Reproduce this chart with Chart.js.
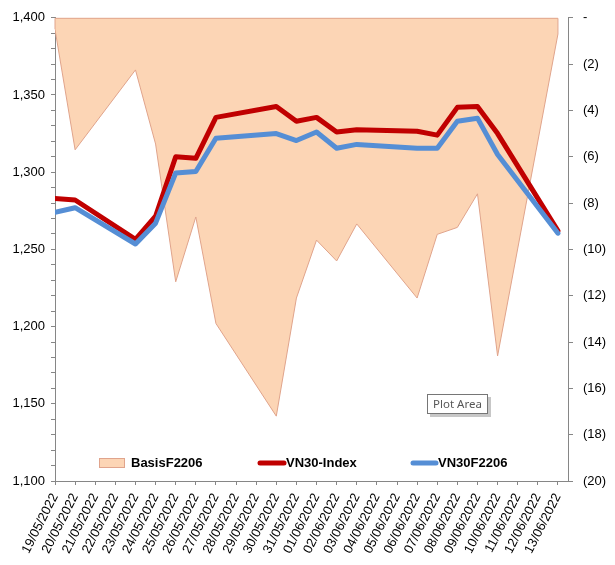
<!DOCTYPE html>
<html><head><meta charset="utf-8">
<script src="https://cdn.jsdelivr.net/npm/chart.js@4.4.0/dist/chart.umd.min.js"></script>
<style>html,body{margin:0;padding:0;background:#fff;} #wrap{width:615px;height:565px;position:relative;}</style>
</head><body><div id="wrap"><canvas id="c" width="615" height="565"></canvas></div>
<script>
const axisDates = ['19/05/2022','20/05/2022','21/05/2022','22/05/2022','23/05/2022','24/05/2022','25/05/2022','26/05/2022','27/05/2022','28/05/2022','29/05/2022','30/05/2022','31/05/2022','01/06/2022','02/06/2022','03/06/2022','04/06/2022','05/06/2022','06/06/2022','07/06/2022','08/06/2022','09/06/2022','10/06/2022','11/06/2022','12/06/2022','13/06/2022'];
const tradingDates = ['19/05/2022','20/05/2022','23/05/2022','24/05/2022','25/05/2022','26/05/2022','27/05/2022','30/05/2022','31/05/2022','01/06/2022','02/06/2022','03/06/2022','06/06/2022','07/06/2022','08/06/2022','09/06/2022','10/06/2022','13/06/2022'];
const vn30Index = [1283, 1282, 1256.5, 1271.5, 1310, 1309, 1335.5, 1342.5, 1333, 1335.5, 1326, 1327.5, 1326.5, 1324, 1342, 1342.5, 1325, 1262];
const vn30F2206 = [1274, 1277, 1253.5, 1267, 1299.5, 1300.5, 1322, 1325, 1320.5, 1326, 1315.5, 1318, 1315.5, 1315.5, 1333, 1335, 1311.5, 1260.5];
const basisF2206 = [-0.5, -5.7, -2.25, -5.45, -11.4, -8.6, -13.2, -17.2, -12.1, -9.6, -10.5, -8.9, -12.1, -9.35, -9.05, -7.6, -14.6, -0.7];
const leftTicks = {min: 1100, max: 1400, major: 50, minor: 10};
const rightTicks = {min: -20, max: 0, step: 2};

const FONT = 'Liberation Sans, Arial, sans-serif';
const AXIS = '#868686';
const AREA_FILL = '#FCD5B5';
const AREA_LINE = '#E0A48C';
const RED = '#C00000';
const BLUE = '#558ED5';

const pts = vals => tradingDates.map((d, i) => ({x: axisDates.indexOf(d), y: vals[i]}));

const extras = {
  id: 'extras',
  afterDatasetsDraw(chart) {
    const c = chart.ctx, x = chart.scales.x, y2 = chart.scales.y2;
    c.save();
    c.strokeStyle = AREA_LINE; c.lineWidth = 1;
    c.beginPath();
    c.moveTo(x.getPixelForValue(0), y2.getPixelForValue(basisF2206[0]));
    c.lineTo(x.getPixelForValue(0), y2.getPixelForValue(0) + 0.5);
    const lastX = axisDates.indexOf(tradingDates[tradingDates.length - 1]);
    c.lineTo(x.getPixelForValue(lastX), y2.getPixelForValue(0) + 0.5);
    c.lineTo(x.getPixelForValue(lastX), y2.getPixelForValue(basisF2206[basisF2206.length - 1]));
    c.stroke();
    c.restore();
  },
  afterDraw(chart) {
    const c = chart.ctx;
    c.save();
    const ly = 463;
    c.font = 'bold 13px ' + FONT;
    c.textBaseline = 'middle';
    c.fillStyle = AREA_FILL; c.fillRect(99.5, 458.5, 25, 9);
    c.strokeStyle = AREA_LINE; c.lineWidth = 1; c.strokeRect(99.5, 458.5, 25, 9);
    c.fillStyle = '#000'; c.fillText('BasisF2206', 131, ly);
    c.lineCap = 'round'; c.lineWidth = 5;
    c.strokeStyle = RED; c.beginPath(); c.moveTo(260, ly); c.lineTo(284, ly); c.stroke();
    c.fillText('VN30-Index', 286, ly);
    c.strokeStyle = BLUE; c.beginPath(); c.moveTo(413, ly); c.lineTo(436, ly); c.stroke();
    c.fillText('VN30F2206', 438, ly);
    c.fillStyle = 'rgba(0,0,0,0.22)';
    c.fillRect(430, 397, 61, 20);
    c.fillStyle = '#fff'; c.fillRect(427.5, 394.5, 60, 19);
    c.strokeStyle = '#767676'; c.lineWidth = 1; c.strokeRect(427.5, 394.5, 60, 19);
    c.fillStyle = '#575757'; c.font = '11.5px "Noto Sans", sans-serif';
    c.textAlign = 'center'; c.fillText('Plot Area', 457.5, 404.5);
    c.restore();
  }
};

new Chart(document.getElementById('c'), {
  data: {
    datasets: [
      {type: 'line', label: 'BasisF2206', data: pts(basisF2206), yAxisID: 'y2', fill: 'origin',
       backgroundColor: AREA_FILL, borderColor: AREA_LINE, borderWidth: 1, pointRadius: 0, tension: 0, order: 2},
      {type: 'line', label: 'VN30-Index', data: pts(vn30Index), yAxisID: 'y', fill: false,
       borderColor: RED, borderWidth: 5, pointRadius: 0, tension: 0, borderJoinStyle: 'round', borderCapStyle: 'round', order: 1},
      {type: 'line', label: 'VN30F2206', data: pts(vn30F2206), yAxisID: 'y', fill: false,
       borderColor: BLUE, borderWidth: 5, pointRadius: 0, tension: 0, borderJoinStyle: 'round', borderCapStyle: 'round', order: 0}
    ]
  },
  options: {
    responsive: false, animation: false,
    layout: {padding: {top: 16, left: 0, right: 0, bottom: 0}},
    plugins: {legend: {display: false}, tooltip: {enabled: false}},
    scales: {
      x: {
        type: 'linear', position: 'bottom', min: 0, max: 25.5,
        afterBuildTicks: s => { s.ticks = axisDates.map((_, i) => ({value: i})); },
        afterFit: s => { s.height = 84; },
        ticks: {callback: v => axisDates[v], minRotation: 63, maxRotation: 63, autoSkip: false,
                font: {family: FONT, size: 13}, color: '#000', padding: 6},
        grid: {drawOnChartArea: false, tickLength: 4, color: AXIS},
        border: {color: AXIS}
      },
      y: {
        position: 'left', min: leftTicks.min, max: leftTicks.max,
        afterFit: s => { s.width = 55; },
        ticks: {stepSize: leftTicks.minor, autoSkip: false,
                callback: v => (v % leftTicks.major === 0 ? v.toLocaleString('en-US') : ''),
                font: {family: FONT, size: 13}, color: '#000', padding: 6},
        grid: {drawOnChartArea: false, tickLength: 4, color: AXIS},
        border: {color: AXIS}
      },
      y2: {
        position: 'right', min: rightTicks.min, max: rightTicks.max,
        afterFit: s => { s.width = 47; },
        ticks: {stepSize: rightTicks.step, autoSkip: false,
                callback: v => (v === 0 ? '-' : '(' + Math.abs(v) + ')'),
                font: {family: FONT, size: 13}, color: '#000', padding: 10},
        grid: {drawOnChartArea: false, tickLength: 5, color: AXIS},
        border: {color: AXIS}
      }
    }
  },
  plugins: [extras]
});
</script></body></html>
